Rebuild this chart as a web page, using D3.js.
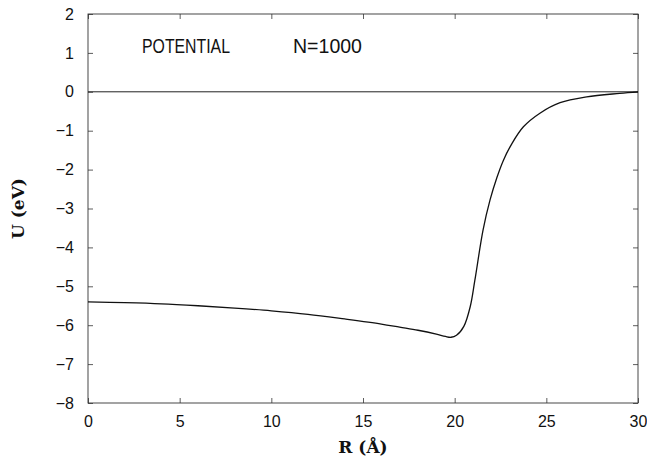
<!DOCTYPE html>
<html>
<head>
<meta charset="utf-8">
<script src="https://cdn.jsdelivr.net/npm/d3@7"></script>
<style>
  body { margin: 0; background: #fff; }
  text { fill: #111; }
</style>
</head>
<body>
<script>
var width = 647, height = 461;
var margin = {left: 88, right: 9, top: 14, bottom: 58};

// radius (Angstrom) and potential (eV)
var radius = [0, 2, 4, 6, 8, 10, 12, 14, 16, 17, 18, 19, 19.5, 19.8, 20.1, 20.5, 20.85, 21.1, 21.55, 21.93,
              22.3, 22.65, 23.1, 23.75, 24.65, 25.75, 27.2, 29, 30];
var potential = [-5.40, -5.42, -5.45, -5.50, -5.56, -5.63, -5.72, -5.84, -5.97, -6.05, -6.13, -6.23, -6.29, -6.31,
                 -6.26, -6.03, -5.52, -4.85, -3.55, -2.78, -2.21, -1.77, -1.35, -0.90, -0.55, -0.28, -0.13,
                 -0.04, 0];
var xTicks = [0, 5, 10, 15, 20, 25, 30];
var yTicks = [2, 1, 0, -1, -2, -3, -4, -5, -6, -7, -8];

var svg = d3.select("body").append("svg")
  .attr("width", width)
  .attr("height", height);

var x = d3.scaleLinear().domain([0, 30]).range([margin.left, width - margin.right]);
var y = d3.scaleLinear().domain([-8, 2]).range([height - margin.bottom, margin.top]);

var axisStyle = function (g) {
  g.select(".domain").remove();
  g.selectAll("line").attr("stroke", "#333").attr("stroke-width", 0.8);
  g.selectAll("text").style("font-family", "Liberation Sans, Arial, sans-serif").style("font-size", "16px").attr("fill", "#111");
};

// bottom and left axes, ticks pointing inward
svg.append("g")
  .attr("transform", "translate(0," + y(-8) + ")")
  .call(d3.axisBottom(x).tickValues(xTicks).tickSizeInner(-5).tickSizeOuter(0).tickPadding(13)
    .tickFormat(function (d) { return d; }))
  .call(axisStyle);

svg.append("g")
  .attr("transform", "translate(" + x(0) + ",0)")
  .call(d3.axisLeft(y).tickValues(yTicks).tickSizeInner(-5).tickSizeOuter(0).tickPadding(14)
    .tickFormat(function (d) { return d < 0 ? "\u2212" + Math.abs(d) : d; }))
  .call(axisStyle);

// top and right ticks without labels
svg.append("g")
  .attr("transform", "translate(0," + y(2) + ")")
  .call(d3.axisTop(x).tickValues(xTicks).tickSizeInner(-5).tickSizeOuter(0).tickFormat(""))
  .call(axisStyle);

svg.append("g")
  .attr("transform", "translate(" + x(30) + ",0)")
  .call(d3.axisRight(y).tickValues(yTicks).tickSizeInner(-5).tickSizeOuter(0).tickFormat(""))
  .call(axisStyle);

// frame
svg.append("rect")
  .attr("x", x(0))
  .attr("y", y(2))
  .attr("width", x(30) - x(0))
  .attr("height", y(-8) - y(2))
  .attr("fill", "none")
  .attr("stroke", "#333")
  .attr("stroke-width", 0.9);

// zero line
svg.append("line")
  .attr("x1", x(0)).attr("x2", x(30))
  .attr("y1", y(0)).attr("y2", y(0))
  .attr("stroke", "#222")
  .attr("stroke-width", 1);

// potential curve
var pts = radius.map(function (r, i) { return [r, potential[i]]; });
var line = d3.line()
  .x(function (d) { return x(d[0]); })
  .y(function (d) { return y(d[1]); })
  .curve(d3.curveCatmullRom.alpha(0.5));

svg.append("path")
  .datum(pts)
  .attr("d", line)
  .attr("fill", "none")
  .attr("stroke", "#111")
  .attr("stroke-width", 1.3);

// labels in plot
svg.append("text")
  .attr("x", 142).attr("y", 53)
  .attr("textLength", 88).attr("lengthAdjust", "spacingAndGlyphs")
  .style("font-family", "Liberation Sans, Arial, sans-serif").style("font-size", "20px")
  .text("POTENTIAL");

svg.append("text")
  .attr("x", 293).attr("y", 53)
  .attr("textLength", 69).attr("lengthAdjust", "spacingAndGlyphs")
  .style("font-family", "Liberation Sans, Arial, sans-serif").style("font-size", "20px")
  .text("N=1000");

// axis titles
svg.append("text")
  .attr("x", (x(0) + x(30)) / 2)
  .attr("y", 453)
  .attr("text-anchor", "middle")
  .style("font-family", "DejaVu Serif, Liberation Serif, serif").style("font-weight", "bold").style("font-size", "17px")
  .text("R  (\u00c5)");

svg.append("text")
  .attr("transform", "translate(24," + y(-3) + ") rotate(-90)")
  .attr("text-anchor", "middle")
  .style("font-family", "DejaVu Serif, Liberation Serif, serif").style("font-weight", "bold").style("font-size", "17px")
  .text("U  (eV)");
</script>
</body>
</html>
